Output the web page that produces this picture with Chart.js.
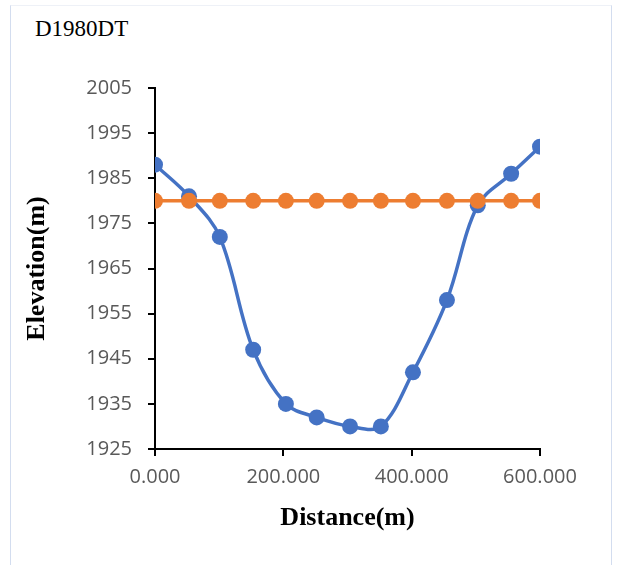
<!DOCTYPE html>
<html>
<head>
<meta charset="utf-8">
<script src="https://cdn.jsdelivr.net/npm/chart.js@4.4.1/dist/chart.umd.min.js"></script>
<style>
  html, body { margin: 0; padding: 0; background: #fff; }
  #wrap { position: relative; width: 619px; height: 565px; overflow: hidden; }
  #frame {
    position: absolute; left: 10px; top: 5px; width: 602px; height: 580px;
    border: 1px solid #d3ddef; border-top-color: #eef1f7; box-sizing: border-box;
  }
  #title {
    position: absolute; left: 35px; top: 16px;
    font: 23px "Liberation Serif", "Times New Roman", serif; color: #000;
  }
  canvas { position: absolute; left: 0; top: 0; }
</style>
</head>
<body>
<div id="wrap">
  <div id="frame"></div>
  <div id="title">D1980DT</div>
  <canvas id="chart" width="619" height="565"></canvas>
</div>
<script>
// Cross-section D1980DT: ground profile and water level
const distance = [0, 53, 101, 153, 204, 252, 304, 352, 402, 455, 503, 555, 600];
const groundElevation = [1988, 1981, 1972, 1947, 1935, 1932, 1930, 1930, 1942, 1958, 1979, 1986, 1992];
const waterLevel = [1980, 1980, 1980, 1980, 1980, 1980, 1980, 1980, 1980, 1980, 1980, 1980, 1980];

const xTicks = [0, 200, 400, 600];
const yMin = 1925, yMax = 2005, yStep = 10;

const toPoints = (xs, ys) => xs.map((x, i) => ({ x: x, y: ys[i] }));

const tickFont = { family: "'Open Sans', sans-serif", size: 20 };
const axisTitleFont = { family: "'Liberation Serif', 'Times New Roman', serif", size: 26, weight: "bold", lineHeight: 1 };

const ctx = document.getElementById("chart").getContext("2d");
new Chart(ctx, {
    type: "scatter",
    data: {
        datasets: [
            {
                label: "Ground",
                data: toPoints(distance, groundElevation),
                showLine: true,
                tension: 0.35,
                borderColor: "#4472C4",
                backgroundColor: "#4472C4",
                borderWidth: 3.5,
                pointRadius: 8,
                pointBorderWidth: 0,
                order: 1,
            },
            {
                label: "Water level",
                data: toPoints(distance, waterLevel),
                showLine: true,
                borderColor: "#ED7D31",
                backgroundColor: "#ED7D31",
                borderWidth: 3.5,
                pointRadius: 8,
                pointBorderWidth: 0,
                order: 0,
            },
        ],
    },
    options: {
        responsive: false,
        animation: false,
        layout: { padding: { top: 88, left: 0, right: 79, bottom: 0 } },
        plugins: {
            legend: { display: false },
            tooltip: { enabled: false },
        },
        scales: {
            x: {
                type: "linear",
                min: 0,
                max: 600,
                afterBuildTicks: (scale) => {
                    scale.ticks = xTicks.map((v) => ({ value: v }));
                },
                afterFit: (scale) => { scale.height = 116; },
                ticks: {
                    color: "#595959",
                    font: tickFont,
                    padding: 9,
                    maxRotation: 0,
                    callback: (v) => Number(v).toFixed(3),
                },
                grid: {
                    drawOnChartArea: false,
                    drawTicks: true,
                    tickLength: 7,
                    color: "#000",
                    lineWidth: 2,
                },
                border: { color: "#000", width: 2 },
                title: {
                    display: true,
                    text: "Distance(m)",
                    color: "#000",
                    font: axisTitleFont,
                    padding: { top: 0, bottom: 34 },
                },
            },
            y: {
                min: yMin,
                max: yMax,
                afterFit: (scale) => { scale.width = 155; },
                ticks: {
                    stepSize: yStep,
                    color: "#595959",
                    font: tickFont,
                    padding: 16,
                    callback: (v) => String(v),
                },
                grid: {
                    drawOnChartArea: false,
                    drawTicks: true,
                    tickLength: 7,
                    color: "#000",
                    lineWidth: 2,
                },
                border: { color: "#000", width: 2 },
                title: {
                    display: true,
                    text: "Elevation(m)",
                    color: "#000",
                    font: axisTitleFont,
                    padding: { top: 24, bottom: 0 },
                },
            },
        },
    },
});
</script>
</body>
</html>
